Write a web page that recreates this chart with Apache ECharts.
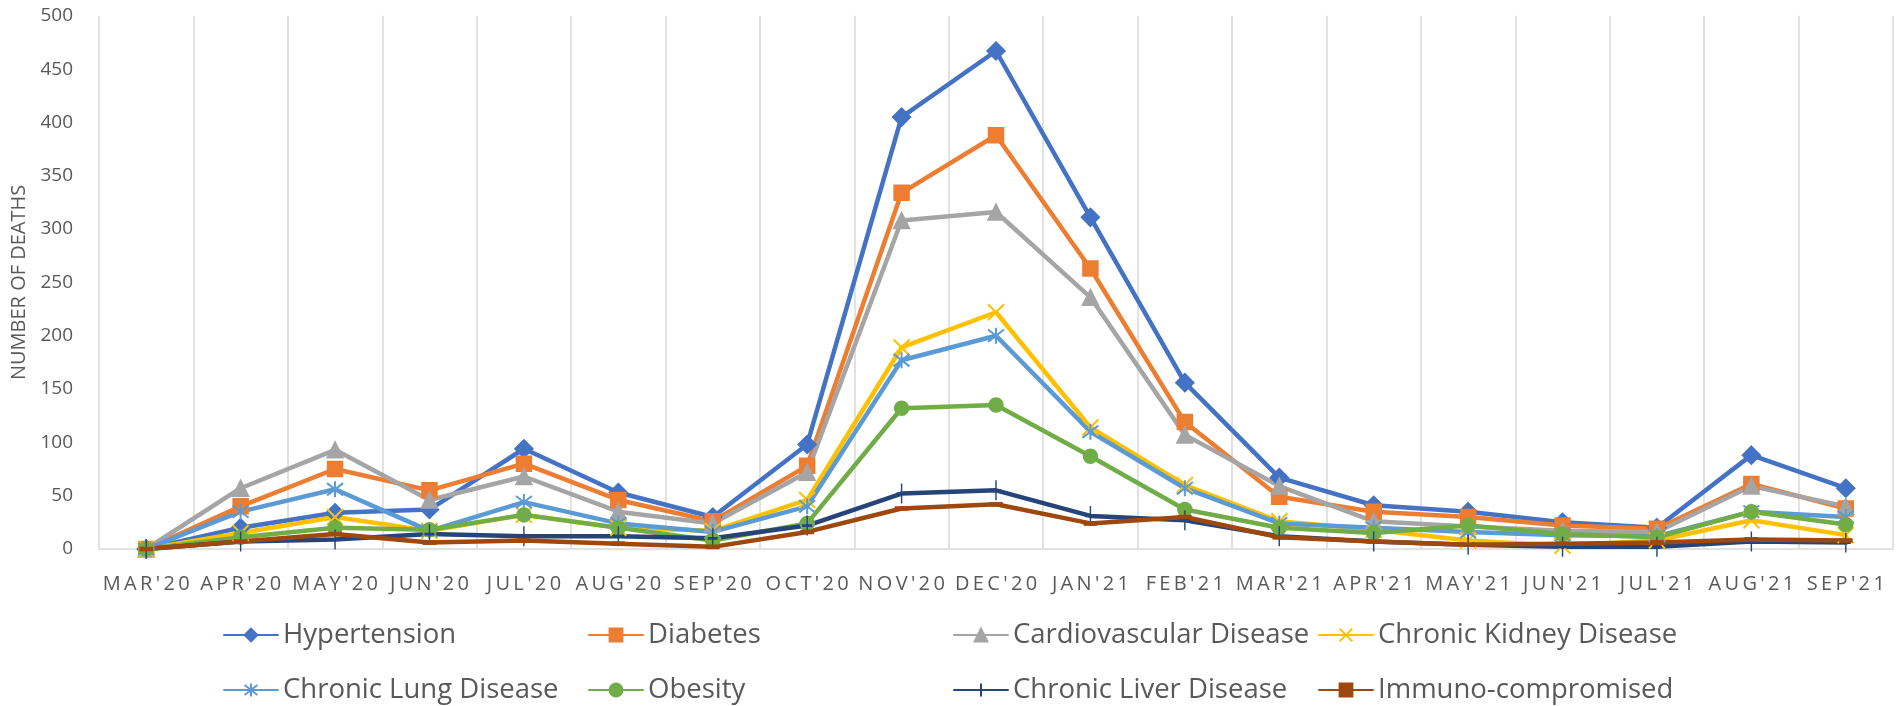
<!DOCTYPE html>
<html>
<head>
<meta charset="utf-8">
<script src="https://cdn.jsdelivr.net/npm/echarts@6/dist/echarts.min.js"></script>
<style>
  html, body { margin: 0; padding: 0; background: #ffffff; }
  #chart { width: 1904px; height: 706px; }
</style>
</head>
<body>
<div id="chart"></div>
<script>
const categories = ["MAR'20","APR'20","MAY'20","JUN'20","JUL'20","AUG'20","SEP'20","OCT'20","NOV'20","DEC'20","JAN'21","FEB'21","MAR'21","APR'21","MAY'21","JUN'21","JUL'21","AUG'21","SEP'21"];
const hypertension   = [0, 20, 34, 37, 94, 53, 30, 98, 405, 467, 311, 156, 67, 41, 35, 25, 20, 88, 57];
const diabetes       = [0, 40, 75, 55, 80, 46, 26, 78, 334, 388, 263, 119, 49, 35, 30, 22, 19, 61, 38];
const cardiovascular = [0, 57, 93, 46, 68, 35, 24, 72, 308, 316, 236, 107, 59, 26, 21, 17, 16, 59, 40];
const kidney         = [0, 15, 30, 17, 32, 20, 17, 46, 189, 222, 114, 60, 26, 18, 8, 3, 8, 27, 13];
const lung           = [0, 35, 56, 17, 44, 24, 16, 40, 177, 200, 110, 57, 24, 20, 16, 13, 12, 35, 30];
const obesity        = [0, 11, 20, 18, 32, 20, 8, 24, 132, 135, 87, 37, 20, 15, 22, 14, 11, 35, 23];
const liver          = [0, 7, 9, 14, 12, 12, 10, 22, 52, 55, 31, 27, 12, 7, 4, 2, 2, 7, 6];
const immuno         = [0, 7, 14, 6, 8, 5, 2, 16, 38, 42, 24, 30, 11, 7, 4, 5, 6, 9, 8];
const seriesNames = ["Hypertension","Diabetes","Cardiovascular Disease","Chronic Kidney Disease","Chronic Lung Disease","Obesity","Chronic Liver Disease","Immuno-compromised"];
const yTicks = { min: 0, max: 500, interval: 50 };
const yTitle = "NUMBER OF DEATHS";

const FONT = "'Open Sans', 'Liberation Sans', sans-serif";
const TXT = '#595959';

const styles = [
  { color: '#4472C4', symbol: 'diamond', size: 18, bw: 1.5 },
  { color: '#ED7D31', symbol: 'rect', size: 15, bw: 1.5 },
  { color: '#A5A5A5', symbol: 'triangle', size: 16, bw: 1.5 },
  { color: '#FFC000', symbol: 'path://M0,0L10,10M10,0L0,10', size: 16, bw: 2 },
  { color: '#5B9BD5', symbol: 'path://M0,0L10,10M10,0L0,10M5,-1.5L5,11.5', size: 16, bw: 2 },
  { color: '#70AD47', symbol: 'circle', size: 14, bw: 1.5 },
  { color: '#264478', symbol: 'path://M5,0L5,10M2,5L8,5', size: [10, 20], bw: 2 },
  { color: '#9E480E', symbol: 'rect', size: [12, 4], bw: 1 }
];
const dataArr = [hypertension, diabetes, cardiovascular, kidney, lung, obesity, liver, immuno];

const series = seriesNames.map((name, i) => ({
  name: name,
  type: 'line',
  data: dataArr[i],
  symbol: styles[i].symbol,
  symbolSize: styles[i].size,
  showAllSymbol: true,
  lineStyle: { color: styles[i].color, width: 4.5, cap: 'round', join: 'round' },
  itemStyle: { color: styles[i].color, borderColor: styles[i].color, borderWidth: styles[i].bw, opacity: 1 },
  emphasis: { disabled: true },
  animation: false
}));

// four legend columns, two rows each
const legendLefts = [223, 588, 953, 1318];
const legends = legendLefts.map((left, c) => ({
  data: [seriesNames[c], seriesNames[c + 4]],
  orient: 'vertical',
  left: left,
  top: 620,
  padding: 0,
  itemWidth: 54,
  itemHeight: 16,
  itemGap: 25,
  textStyle: { fontFamily: FONT, fontSize: 27.5, color: TXT, lineHeight: 30 },
  selectedMode: false
}));

const chart = echarts.init(document.getElementById('chart'), null, { renderer: 'canvas' });
chart.setOption({
  backgroundColor: '#ffffff',
  animation: false,
  grid: { left: 99, right: 11, top: 15.8, bottom: 157, containLabel: false },
  legend: legends,
  xAxis: {
    type: 'category',
    data: categories,
    boundaryGap: true,
    axisLine: { show: true, lineStyle: { color: '#D9D9D9', width: 1.5 } },
    axisTick: { show: false },
    splitLine: { show: true, lineStyle: { color: '#D9D9D9', width: 1.5 } },
    axisLabel: {
      interval: 0,
      margin: 25,
      fontFamily: FONT,
      fontSize: 20,
      color: TXT,
      formatter: v => v.split('').join('\u2006')
    }
  },
  yAxis: {
    type: 'value',
    min: yTicks.min,
    max: yTicks.max,
    interval: yTicks.interval,
    name: yTitle,
    nameLocation: 'middle',
    nameGap: 70,
    nameRotate: 90,
    nameTextStyle: { fontFamily: FONT, fontSize: 20, color: TXT },
    axisLine: { show: false },
    axisTick: { show: false },
    splitLine: { show: false },
    axisLabel: { margin: 26, fontFamily: FONT, fontSize: 19, color: TXT }
  },
  series: series
});
</script>
</body>
</html>
